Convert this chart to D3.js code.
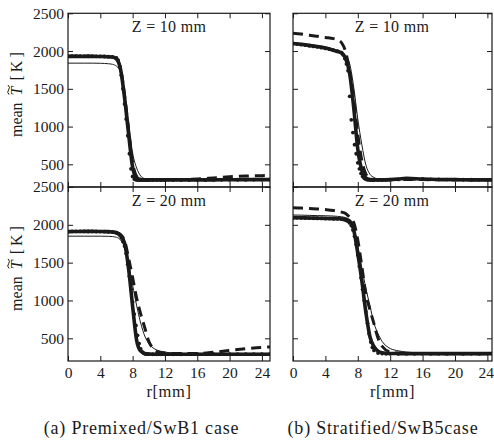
<!DOCTYPE html>
<html><head><meta charset="utf-8">
<script src="https://cdn.jsdelivr.net/npm/d3@7"></script>
<style>
body{margin:0;background:#fff} svg{display:block}
svg text{font-family:"Liberation Serif","DejaVu Serif","Noto Serif",serif !important;}
</style>
</head><body>
<svg id="c" width="494" height="442"></svg>
<script>
// ---------- data ----------
const rLine = [0,1,2,3,4,5,5.5,6,6.5,7,7.5,8,8.5,9,9.5,10,10.5,11,12,13,14,16,18,20,22,24,25];
const rDot  = [0,0.5,1,1.5,2,2.5,3,3.5,4,4.5,5,5.5,
               6,6.2,6.4,6.6,6.8,7,7.2,7.4,7.6,7.8,8,8.2,8.4,8.6,8.8,9,9.2,9.4,9.6,9.8,10,
               10.5,11,11.5,12,13,14,15,16,17,18,19,20,21,22,23,24,25];
const xTicks = [0,4,8,12,16,20,24];
const yTicks = [500,1000,1500,2000,2500];
const zLabels = ["Z = 10 mm","Z = 20 mm"];
const xTitle = "r[mm]";
const captions = ["(a) Premixed/SwB1 case","(b) Stratified/SwB5case"];

// Premixed / SwB1, Z = 10 mm
const pmZ10Thick = [1930,1930,1930,1930,1928,1925,1920,1895,1760,1380,900,460,320,300,296,295,295,295,295,295,295,295,295,296,297,298,298];
const pmZ10Thin  = [1840,1840,1840,1840,1838,1832,1825,1800,1720,1450,1050,650,450,345,310,300,298,297,297,297,297,297,297,298,298,298,298];
const pmZ10Dash  = [1930,1930,1930,1930,1928,1925,1920,1895,1770,1420,960,520,340,305,298,296,296,296,297,298,300,305,320,335,345,350,352];
const pmZ10Dots  = [1930,1932,1933,1932,1930,1931,1930,1930,1929,1928,1925,1922,
                    1910,1880,1800,1680,1500,1300,1100,880,640,440,340,305,295,293,292,292,292,292,292,292,292,
                    292,292,292,292,292,292,293,293,293,294,295,295,296,296,297,297,297];
// Premixed / SwB1, Z = 20 mm
const pmZ20Thick = [1910,1912,1913,1913,1912,1910,1905,1895,1860,1760,1420,920,470,330,300,292,290,290,290,290,290,290,290,290,290,290,290];
const pmZ20Thin  = [1850,1850,1850,1850,1850,1848,1845,1835,1800,1700,1480,1200,930,700,530,430,375,345,318,305,300,300,300,300,300,300,300];
const pmZ20Dash  = [1910,1912,1913,1913,1912,1910,1905,1895,1870,1790,1560,1300,1030,820,640,460,370,325,305,300,300,300,315,340,362,380,386];
const pmZ20Dots  = [1910,1912,1913,1914,1913,1912,1913,1912,1911,1910,1908,1905,
                    1895,1885,1865,1830,1780,1720,1620,1480,1320,1150,980,820,670,540,430,360,320,300,292,290,290,
                    289,289,289,289,289,289,290,290,290,290,290,290,290,290,290,290,290];
// Stratified / SwB5, Z = 10 mm
const stZ10Thick = [2100,2090,2075,2060,2040,2010,1995,1975,1900,1700,1250,700,420,320,300,295,295,295,298,305,315,305,300,298,295,295,295];
const stZ10Thin  = [2110,2100,2088,2072,2052,2025,2008,1985,1940,1830,1520,1100,760,490,370,325,305,300,300,310,320,310,302,298,296,296,296];
const stZ10Dash  = [2235,2225,2210,2195,2180,2165,2150,2110,1990,1720,1360,900,550,370,310,298,296,295,296,298,300,298,296,295,295,295,295];
const stZ10Dots  = [2100,2093,2085,2078,2070,2062,2055,2045,2035,2025,2012,2000,
                    1980,1950,1900,1830,1740,1400,1090,920,760,640,520,440,380,340,315,302,296,294,293,292,292,
                    292,293,294,296,300,305,308,306,302,300,298,297,296,296,295,295,295];
// Stratified / SwB5, Z = 20 mm
const stZ20Thick = [2095,2093,2090,2088,2085,2082,2080,2078,2072,2050,1930,1620,1260,840,520,390,330,310,300,298,297,297,297,297,297,297,297];
const stZ20Thin  = [2130,2128,2125,2122,2120,2116,2112,2106,2095,2060,1960,1720,1430,1160,930,700,560,460,365,335,318,305,300,298,297,297,297];
const stZ20Dash  = [2226,2222,2215,2210,2202,2190,2180,2168,2150,2100,2030,1800,1450,1080,880,690,500,395,320,305,300,298,297,297,297,297,297];
const stZ20Dots  = [2090,2092,2090,2089,2088,2086,2085,2084,2083,2082,2080,2079,
                    2076,2072,2066,2058,2045,2025,1990,1930,1850,1740,1600,1450,1300,1150,1000,850,700,560,450,380,340,
                    305,298,296,295,295,295,295,295,295,295,295,295,295,295,295,295,295];

// ---------- layout ----------
const INK = "#1a1a1a";
const FS = 15.5;
const cols = [{x0:68,x1:270,dmax:25,cap:141.5},{x0:293,x1:492,dmax:24.57,cap:383}];
const rows = [{y0:13.3,y1:187},{y0:187,y1:361}];
const panels = [
  {c:0,r:0,thick:pmZ10Thick,thin:pmZ10Thin,dash:pmZ10Dash,dots:pmZ10Dots},
  {c:0,r:1,thick:pmZ20Thick,thin:pmZ20Thin,dash:pmZ20Dash,dots:pmZ20Dots},
  {c:1,r:0,thick:stZ10Thick,thin:stZ10Thin,dash:stZ10Dash,dots:stZ10Dots},
  {c:1,r:1,thick:stZ20Thick,thin:stZ20Thin,dash:stZ20Dash,dots:stZ20Dots}
];

const svg = d3.select("#c");
svg.append("rect").attr("width",494).attr("height",442).attr("fill","#fff");
const defs = svg.append("defs");

panels.forEach((p,i)=>{
  const C = cols[p.c], R = rows[p.r];
  const x = d3.scaleLinear().domain([0,C.dmax]).range([C.x0,C.x1]);
  const y = d3.scaleLinear().domain([200,2500]).range([R.y1,R.y0]);
  const cid = "clip"+i;
  defs.append("clipPath").attr("id",cid).append("rect")
    .attr("x",C.x0).attr("y",R.y0).attr("width",C.x1-C.x0).attr("height",R.y1-R.y0);
  const g = svg.append("g").attr("clip-path",`url(#${cid})`);
  const line = d3.line().x((d,k)=>x(rLine[k])).y(d=>y(d)).curve(d3.curveMonotoneX);

  g.append("g").selectAll("circle").data(p.dots).join("circle")
    .attr("cx",(d,k)=>x(rDot[k])).attr("cy",d=>y(d)).attr("r",1.9).attr("fill",INK);
  g.append("path").attr("d",line(p.thick)).attr("fill","none").attr("stroke",INK).attr("stroke-width",3.6);
  g.append("path").attr("d",line(p.dash)).attr("fill","none").attr("stroke",INK).attr("stroke-width",3)
    .attr("stroke-dasharray","10,6");
  g.append("path").attr("d",line(p.thin)).attr("fill","none").attr("stroke",INK).attr("stroke-width",1);

  const styleAxis = sel => {
    sel.attr("font-family",null).attr("font-size",FS);
    sel.select(".domain").remove();
    sel.selectAll("line").attr("stroke",INK).attr("stroke-width",1);
    sel.selectAll("text").attr("fill",INK).attr("font-size",FS);
  };
  const bx = svg.append("g").attr("transform",`translate(0,${R.y1})`)
    .call(d3.axisBottom(x).tickValues(xTicks).tickSize(-5).tickPadding(6)
      .tickFormat(p.r===1 ? d3.format("d") : ()=>"")).call(styleAxis);
  if (p.c===1 && p.r===1) {
    // keep the last label inside the picture edge
    bx.selectAll(".tick").filter(d=>d===24).select("text")
      .attr("text-anchor","end").attr("x",493.6 - x(24));
  }
  svg.append("g").attr("transform",`translate(0,${R.y0})`)
    .call(d3.axisTop(x).tickValues(xTicks).tickSize(-5).tickFormat(()=>"")).call(styleAxis);
  svg.append("g").attr("transform",`translate(${C.x0},0)`)
    .call(d3.axisLeft(y).tickValues(yTicks).tickSize(-5).tickPadding(4)
      .tickFormat(p.c===0 ? d3.format("d") : ()=>"")).call(styleAxis);
  svg.append("g").attr("transform",`translate(${C.x1},0)`)
    .call(d3.axisRight(y).tickValues(yTicks).tickSize(-5).tickFormat(()=>"")).call(styleAxis);

  svg.append("rect").attr("x",C.x0).attr("y",R.y0).attr("width",C.x1-C.x0).attr("height",R.y1-R.y0)
    .attr("fill","none").attr("stroke",INK).attr("stroke-width",1.2);

  svg.append("text").attr("x",(C.x0+C.x1)/2 + (p.c===0?0:-0.5)).attr("y",R.y0+19)
    .attr("text-anchor","middle").attr("font-size",16).attr("letter-spacing",0.3).attr("fill",INK)
    .text(zLabels[p.r]);

  if (p.c===0) {
    const cy = (R.y0+R.y1)/2 - 7;
    const t = svg.append("text")
      .attr("transform",`translate(22,${cy}) rotate(-90)`)
      .attr("text-anchor","middle").attr("font-size",16).attr("fill",INK);
    t.append("tspan").text("mean ");
    t.append("tspan").attr("font-style","italic").attr("dx",3).text("T");
    t.append("tspan").attr("dx",6).attr("letter-spacing",3).text("[K]");
    const gl = svg.append("g").attr("transform",`translate(22,${cy}) rotate(-90)`);
    gl.append("path").attr("d","M -1.5,-12.8 q 2.3,-2.7 4.8,-0.6 q 2.5,2.1 4.8,-0.6")
      .attr("fill","none").attr("stroke",INK).attr("stroke-width",1);
  }
});

cols.forEach((C,i)=>{
  svg.append("text").attr("x",(C.x0+C.x1)/2).attr("y",397)
    .attr("text-anchor","middle").attr("font-size",16.5).attr("letter-spacing",0.6).attr("fill",INK)
    .text(xTitle);
  svg.append("text").attr("x",C.cap).attr("y",434)
    .attr("text-anchor","middle").attr("font-size",18).attr("letter-spacing",0.8).attr("fill",INK)
    .text(captions[i]);
});
</script>
</body></html>
